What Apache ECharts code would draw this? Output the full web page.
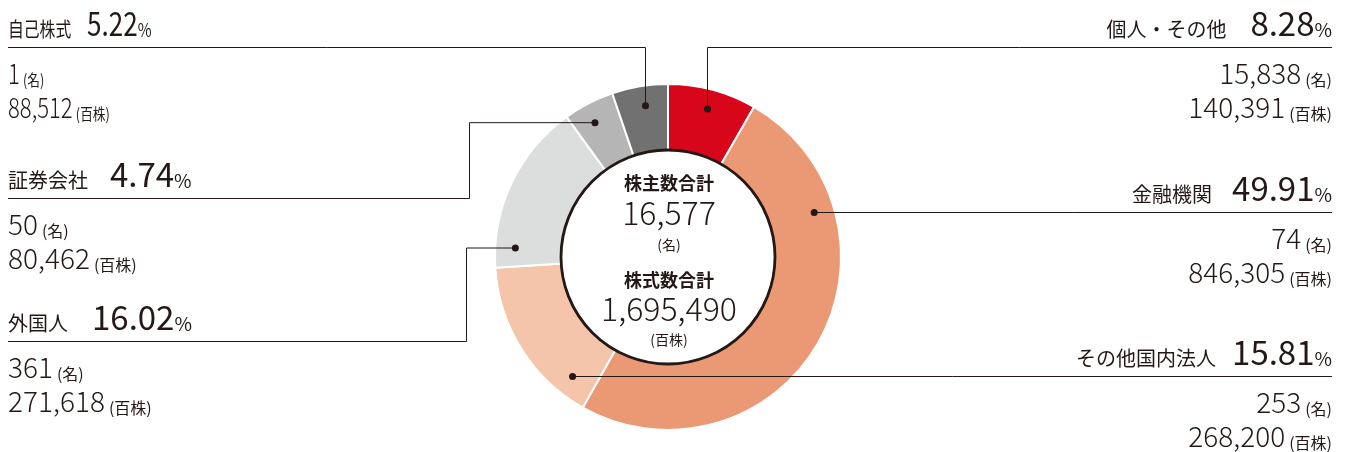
<!DOCTYPE html>
<html>
<head>
<meta charset="utf-8">
<script src="https://cdn.jsdelivr.net/npm/echarts@6/dist/echarts.min.js"></script>
<style>
  html, body { margin: 0; padding: 0; background: #fff; }
  #chart { width: 1345px; height: 452px; }
</style>
</head>
<body>
<div id="chart"></div>
<script>
// data
const categories = ["個人・その他", "金融機関", "その他国内法人", "外国人", "証券会社", "自己株式"];
const shares = [140391, 846305, 268200, 271618, 80462, 88512]; // 百株
const holders = [15838, 74, 253, 361, 50, 1]; // 名
const percents = ["8.28", "49.91", "15.81", "16.02", "4.74", "5.22"];
const totalHolders = 16577;
const totalShares = 1695490;

const colors = ["#d7061b", "#eb9874", "#f4c4ab", "#dcdddd", "#b5b5b6", "#727171"];
const ink = "#231815";
const cjk = "'Noto Sans CJK JP', 'Noto Sans', sans-serif";

// where each callout sits (layout only)
const callouts = [
  { side: "right", at: 0.49, lineY: 47.5, gap: 24 },
  { side: "right", at: 0.24, gap: 20 },
  { side: "right", at: 0.16, gap: 16 },
  { side: "left", at: 0.12, elbowX: 466.5, lineY: 341.5, gap: 24 },
  { side: "left", at: 0.43, elbowX: 469.5, lineY: 198.5, gap: 22 },
  { side: "left", at: 0.54, lineY: 47.5, gap: 20, squeeze: 0.79 },
];

const fmt = (v) => v.toLocaleString("en-US");

const chart = echarts.init(document.getElementById("chart"));

chart.setOption({
  animation: false,
  series: [
    {
      type: "pie",
      center: [668, 257],
      radius: [106, 173],
      startAngle: 90,
      clockwise: true,
      silent: true,
      label: { show: false },
      labelLine: { show: false },
      itemStyle: { borderColor: "#fff", borderWidth: 2 },
      data: categories.map((name, i) => ({
        name,
        value: shares[i],
        itemStyle: { color: colors[i] },
      })),
    },
  ],
});

const pieData = chart.getModel().getSeriesByIndex(0).getData();
const graphics = [];
const base = pieData.getItemLayout(0);
const cx = base.cx, cy = base.cy;

// white centre disc with dark ring
graphics.push({
  type: "circle",
  z: 50,
  shape: { cx, cy, r: base.r0 + 1 },
  style: { fill: "#fff", stroke: ink, lineWidth: 2.8 },
});

function centerText(text, y, size, weight) {
  graphics.push({
    type: "text",
    z: 60,
    x: cx + 1,
    y: cy + y,
    style: {
      text,
      fill: ink,
      fontSize: size,
      fontWeight: weight,
      fontFamily: cjk,
      align: "center",
      verticalAlign: "middle",
    },
  });
}
centerText("株主数合計", -74, 18, "bold");
centerText(fmt(totalHolders), -44, 32, 300);
centerText("(名)", -12, 14, "normal");
centerText("株式数合計", 23, 18, "bold");
centerText(fmt(totalShares), 52, 32, 300);
centerText("(百株)", 83, 14, "normal");

categories.forEach((name, i) => {
  const c = callouts[i];
  const L = pieData.getItemLayout(i);
  const a = L.startAngle + c.at * (L.endAngle - L.startAngle);
  const rr = L.r0 + 0.7 * (L.r - L.r0);
  const px = L.cx + rr * Math.cos(a);
  const py = L.cy + rr * Math.sin(a);
  const edge = c.side === "left" ? 8 : 1332;
  const vx = Math.round(px) + 0.5;

  let lineY, pts;
  if (c.elbowX != null) {
    lineY = c.lineY;
    pts = [[px, py], [c.elbowX, py], [c.elbowX, lineY], [edge, lineY]];
  } else if (c.lineY != null) {
    lineY = c.lineY;
    pts = [[vx, py], [vx, lineY], [edge, lineY]];
  } else {
    lineY = Math.round(py) + 0.5;
    pts = [[px, lineY], [edge, lineY]];
  }

  graphics.push({
    type: "polyline",
    z: 70,
    shape: { points: pts },
    style: { stroke: ink, lineWidth: 1, fill: null },
  });
  graphics.push({
    type: "circle",
    z: 71,
    shape: { cx: pts[0][0], cy: pts[0][1], r: 3.5 },
    style: { fill: ink },
  });

  const align = c.side === "left" ? "left" : "right";
  const sx = c.squeeze || 1;
  const rows = [
    {
      y: lineY - 24,
      text: `{n|${name}}{p|${percents[i]}}{u|%}`,
      rich: {
        n: { fontSize: 20, fontFamily: cjk, fontWeight: 400, fill: ink, lineHeight: 32, verticalAlign: "bottom" },
        p: { fontSize: 33, fontFamily: cjk, fontWeight: 400, fill: ink, lineHeight: 32, verticalAlign: "bottom", padding: [0, 0, 0, c.gap] },
        u: { fontSize: 19, fontFamily: cjk, fontWeight: 400, fill: ink, lineHeight: 32, verticalAlign: "bottom" },
      },
    },
    {
      y: lineY + 26,
      text: `{v|${fmt(holders[i])}}{s|(名)}`,
    },
    {
      y: lineY + 60,
      text: `{v|${fmt(shares[i])}}{s|(百株)}`,
    },
  ];
  const valueRich = {
    v: { fontSize: 28, fontFamily: cjk, fontWeight: 300, fill: ink, lineHeight: 28, verticalAlign: "bottom" },
    s: { fontSize: 16, fontFamily: cjk, fontWeight: 400, fill: ink, lineHeight: 25, verticalAlign: "bottom", padding: [0, 0, 0, 4] },
  };
  rows.forEach((row) => {
    graphics.push({
      type: "text",
      z: 80,
      x: edge,
      y: row.y,
      scaleX: sx,
      style: {
        text: row.text,
        rich: row.rich || valueRich,
        fill: ink,
        align,
        verticalAlign: "middle",
      },
    });
  });
});

chart.setOption({ graphic: { elements: graphics } });

window.addEventListener("resize", () => chart.resize());
</script>
</body>
</html>
